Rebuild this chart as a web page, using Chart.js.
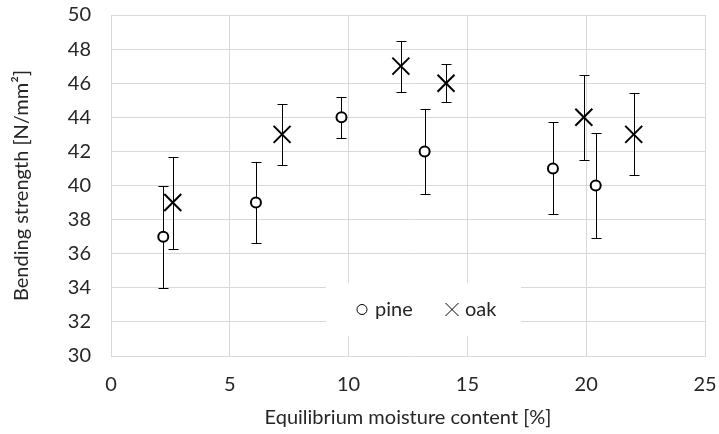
<!DOCTYPE html>
<html>
<head>
<meta charset="utf-8">
<script src="https://cdn.jsdelivr.net/npm/chart.js@4.4.1/dist/chart.umd.min.js"></script>
<style>
  html, body { margin: 0; padding: 0; background: #fff; }
  #wrap { width: 719px; height: 434px; }
</style>
</head>
<body>
<div id="wrap"><canvas id="myChart" width="719" height="434"></canvas></div>
<script>
const pineX = [2.2, 6.1, 9.7, 13.2, 18.6, 20.4];
const pineY = [37, 39, 44, 42, 41, 40];
const pineErr = [3.0, 2.4, 1.2, 2.5, 2.7, 3.1];

const oakX = [2.6, 7.2, 12.2, 14.1, 19.9, 22.0];
const oakY = [39, 43, 47, 46, 44, 43];
const oakErr = [2.7, 1.8, 1.5, 1.1, 2.5, 2.4];

const xTitle = 'Equilibrium moisture content [%]';
const yTitle = 'Bending strength [N/mm²]';

const textColor = '#262626';
const gridColor = '#d9d9d9';

Chart.defaults.font.family = 'Lato';
Chart.defaults.font.size = 20;
Chart.defaults.color = textColor;

// error bars drawn behind the markers
const errorBars = {
  id: 'errorBars',
  beforeDatasetsDraw(chart) {
    const ctx = chart.ctx;
    const x = chart.scales.x, y = chart.scales.y;
    ctx.save();
    ctx.strokeStyle = '#000';
    ctx.lineWidth = 1;
    [[pineX, pineY, pineErr], [oakX, oakY, oakErr]].forEach(([xs, ys, es]) => {
      xs.forEach((v, i) => {
        const px = Math.round(x.getPixelForValue(v)) + 0.5;
        const top = Math.round(y.getPixelForValue(ys[i] + es[i])) + 0.5;
        const bot = Math.round(y.getPixelForValue(ys[i] - es[i])) + 0.5;
        ctx.beginPath();
        ctx.moveTo(px, top); ctx.lineTo(px, bot);
        ctx.moveTo(px - 5, top); ctx.lineTo(px + 5, top);
        ctx.moveTo(px - 5, bot); ctx.lineTo(px + 5, bot);
        ctx.stroke();
      });
    });
    ctx.restore();
  }
};

// legend box sitting inside the plot, like the excel one
const insideLegend = {
  id: 'insideLegend',
  afterDraw(chart) {
    const ctx = chart.ctx;
    const a = chart.chartArea;
    const left = a.left + 215, top = a.bottom - 73;
    const w = 195, h = 53;
    const cy = top + h / 2;
    ctx.save();
    ctx.fillStyle = '#fff';
    ctx.fillRect(left, top, w, h);

    ctx.strokeStyle = '#000';
    ctx.lineWidth = 1;
    // pine marker
    ctx.beginPath();
    ctx.arc(left + 36, cy, 5, 0, Math.PI * 2);
    ctx.stroke();
    // oak marker
    const ox = left + 126, d = 6.5;
    ctx.beginPath();
    ctx.moveTo(ox - d, cy - d); ctx.lineTo(ox + d, cy + d);
    ctx.moveTo(ox - d, cy + d); ctx.lineTo(ox + d, cy - d);
    ctx.stroke();

    ctx.fillStyle = textColor;
    ctx.font = '20px Lato';
    ctx.textBaseline = 'middle';
    ctx.textAlign = 'left';
    ctx.fillText(chart.data.datasets[0].label, left + 49, cy);
    ctx.fillText(chart.data.datasets[1].label, left + 139, cy);
    ctx.restore();
  }
};

const ctx = document.getElementById('myChart').getContext('2d');

const myChart = new Chart(ctx, {
  type: 'scatter',
  data: {
    datasets: [{
      label: 'pine',
      data: pineX.map((v, i) => ({ x: v, y: pineY[i] })),
      pointStyle: 'circle',
      pointRadius: 5,
      pointBorderWidth: 2,
      borderColor: '#000',
      backgroundColor: '#fff'
    }, {
      label: 'oak',
      data: oakX.map((v, i) => ({ x: v, y: oakY[i] })),
      pointStyle: 'crossRot',
      pointRadius: 12,
      pointBorderWidth: 2,
      borderColor: '#000',
      backgroundColor: '#000'
    }]
  },
  options: {
    responsive: false,
    animation: false,
    layout: { padding: { top: 15, right: 13, left: 0, bottom: 0 } },
    plugins: {
      legend: { display: false },
      tooltip: { enabled: false }
    },
    scales: {
      x: {
        type: 'linear',
        min: 0,
        max: 25,
        ticks: { stepSize: 5, padding: 17 },
        grid: { color: gridColor, drawTicks: false },
        border: { color: gridColor },
        title: { display: true, text: xTitle, padding: { top: 2 } },
        afterFit(scale) {
          scale.height = 78;
          scale.paddingLeft = 0;
          scale.paddingRight = 0;
        }
      },
      y: {
        min: 30,
        max: 50,
        ticks: { stepSize: 2, padding: 20 },
        grid: { color: gridColor, drawTicks: false },
        border: { color: gridColor },
        title: { display: true, text: yTitle, padding: { top: 10, bottom: 0 } },
        afterFit(scale) {
          scale.width = 111;
          scale.paddingTop = 0;
          scale.paddingBottom = 0;
        }
      }
    }
  },
  plugins: [errorBars, insideLegend]
});
</script>
</body>
</html>
